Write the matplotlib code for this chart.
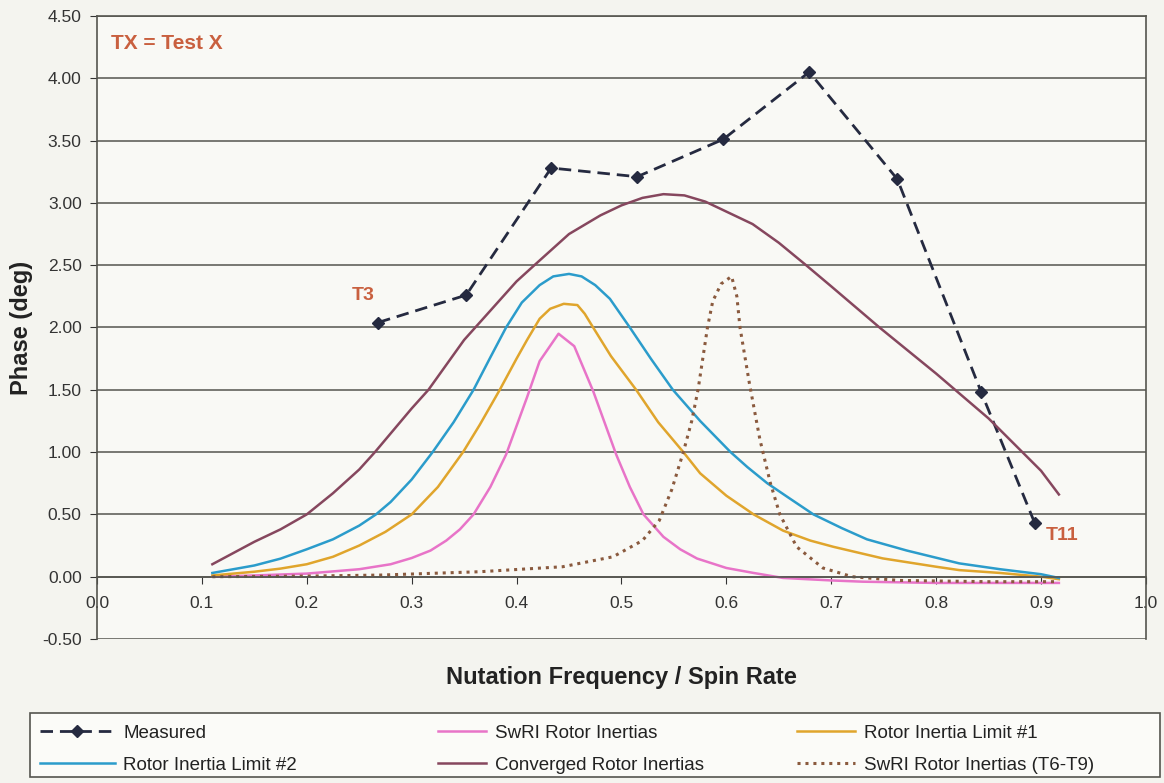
import matplotlib.pyplot as plt
from matplotlib.patches import Rectangle
import numpy as np

plt.rcParams['font.family'] = ['Liberation Sans', 'DejaVu Sans']

# measured test points (T3 ... T11)
meas_x = [0.268, 0.352, 0.433, 0.515, 0.597, 0.679, 0.763, 0.843, 0.894]
meas_y = [2.04, 2.26, 3.28, 3.21, 3.51, 4.05, 3.19, 1.48, 0.43]

# SwRI rotor inertias
swri_x = [0.11, 0.15, 0.2, 0.25, 0.28, 0.3, 0.318, 0.333, 0.346, 0.359, 0.375, 0.39, 0.41,
          0.422, 0.44, 0.455, 0.473, 0.495, 0.508, 0.521, 0.54, 0.556, 0.572, 0.6, 0.626,
          0.654, 0.7, 0.73, 0.8, 0.86, 0.917]
swri_y = [0.0, 0.01, 0.025, 0.06, 0.1, 0.15, 0.21, 0.29, 0.38, 0.5, 0.72, 0.98, 1.44,
          1.73, 1.95, 1.85, 1.49, 0.98, 0.72, 0.5, 0.32, 0.22, 0.146, 0.07, 0.03,
          -0.01, -0.03, -0.04, -0.05, -0.05, -0.05]

# Rotor inertia limit #1
lim1_x = [0.11, 0.15, 0.175, 0.2, 0.225, 0.25, 0.275, 0.3, 0.325, 0.349, 0.365, 0.384, 0.4,
          0.41, 0.422, 0.432, 0.445, 0.458, 0.465, 0.473, 0.49, 0.514, 0.535, 0.559, 0.575,
          0.6, 0.626, 0.654, 0.68, 0.702, 0.749, 0.8, 0.822, 0.861, 0.9, 0.917]
lim1_y = [0.01, 0.04, 0.065, 0.1, 0.16, 0.25, 0.36, 0.5, 0.72, 1.0, 1.22, 1.5, 1.75,
          1.9, 2.07, 2.15, 2.19, 2.18, 2.11, 2.0, 1.77, 1.5, 1.24, 1.0, 0.83,
          0.65, 0.5, 0.37, 0.29, 0.24, 0.147, 0.08, 0.053, 0.03, 0.0, -0.02]

# Rotor inertia limit #2
lim2_x = [0.11, 0.15, 0.175, 0.2, 0.225, 0.25, 0.266, 0.28, 0.3, 0.32, 0.34, 0.359, 0.375,
          0.39, 0.405, 0.422, 0.435, 0.45, 0.462, 0.475, 0.489, 0.508, 0.528, 0.549, 0.575,
          0.604, 0.62, 0.639, 0.66, 0.683, 0.71, 0.734, 0.772, 0.822, 0.861, 0.9, 0.917]
lim2_y = [0.03, 0.09, 0.145, 0.22, 0.3, 0.41, 0.5, 0.6, 0.78, 1.0, 1.24, 1.5, 1.76,
          2.0, 2.2, 2.34, 2.41, 2.43, 2.41, 2.34, 2.23, 2.0, 1.75, 1.5, 1.25,
          1.0, 0.88, 0.75, 0.63, 0.5, 0.39, 0.3, 0.21, 0.107, 0.06, 0.02, -0.01]

# Converged rotor inertias
conv_x = [0.11, 0.15, 0.175, 0.2, 0.225, 0.25, 0.265, 0.3, 0.316, 0.35, 0.4, 0.417, 0.45,
          0.48, 0.5, 0.52, 0.54, 0.56, 0.58, 0.6, 0.625, 0.65, 0.676, 0.7, 0.746, 0.8,
          0.85, 0.9, 0.917]
conv_y = [0.1, 0.28, 0.38, 0.5, 0.67, 0.86, 1.0, 1.35, 1.5, 1.9, 2.37, 2.5, 2.75,
          2.9, 2.98, 3.04, 3.07, 3.06, 3.01, 2.93, 2.83, 2.68, 2.5, 2.33, 2.0, 1.63,
          1.27, 0.85, 0.66]

# SwRI rotor inertias (T6-T9)
t69_x = [0.11, 0.2, 0.27, 0.365, 0.444, 0.492, 0.52, 0.536, 0.548, 0.559, 0.567, 0.573,
         0.582, 0.587, 0.595, 0.605, 0.61, 0.613, 0.622, 0.632, 0.642, 0.651, 0.667,
         0.692, 0.72, 0.765, 0.85, 0.917]
t69_y = [0.0, 0.005, 0.013, 0.04, 0.08, 0.16, 0.29, 0.45, 0.7, 1.0, 1.25, 1.5,
         2.0, 2.21, 2.35, 2.41, 2.25, 2.0, 1.55, 1.1, 0.75, 0.5, 0.24,
         0.07, 0.0, -0.03, -0.04, -0.04]

fig = plt.figure(figsize=(11.64, 7.83), dpi=100, facecolor='#f4f4ef')
ax = fig.add_axes([0.0833, 0.1839, 0.9012, 0.7957])
ax.set_facecolor('#f9f9f5')

l_meas, = ax.plot(meas_x, meas_y, color='#252a40', lw=2, dashes=(4.5, 2.5),
                  marker='D', ms=6, label='Measured')
l_swri, = ax.plot(swri_x, swri_y, color='#e874c8', lw=1.8, label='SwRI Rotor Inertias')
l_lim1, = ax.plot(lim1_x, lim1_y, color='#e0a52c', lw=1.8, label='Rotor Inertia Limit #1')
l_lim2, = ax.plot(lim2_x, lim2_y, color='#2b9ccb', lw=1.8, label='Rotor Inertia Limit #2')
l_conv, = ax.plot(conv_x, conv_y, color='#86475e', lw=1.8, label='Converged Rotor Inertias')
l_t69, = ax.plot(t69_x, t69_y, color='#8a5a3e', lw=2.2, linestyle=(0, (1, 1.6)),
                 label='SwRI Rotor Inertias (T6-T9)')

ax.set_xlim(0, 1.0)
ax.set_ylim(-0.5, 4.5)
ax.set_xticks(np.arange(0, 1.01, 0.1))
ax.set_xticklabels(['%.1f' % v for v in np.arange(0, 1.01, 0.1)])
ax.set_yticks(np.arange(-0.5, 4.51, 0.5))
ax.set_yticklabels(['%.2f' % v for v in np.arange(-0.5, 4.51, 0.5)])
ax.yaxis.grid(True, color='#55554f', lw=1.1)
ax.set_axisbelow(True)

ax.spines['bottom'].set_position(('data', 0))
for s in ['left', 'right', 'top', 'bottom']:
    ax.spines[s].set_color('#55554f')
    ax.spines[s].set_linewidth(1.2)
ax.tick_params(axis='x', length=5, pad=9, labelsize=12.5, colors='#333333')
ax.tick_params(axis='y', length=5, pad=6, labelsize=12.5, colors='#333333')

ax.set_xlabel('Nutation Frequency / Spin Rate', fontsize=17, fontweight='bold', color='#222222')
ax.xaxis.set_label_coords(0.5, -0.043)
ax.xaxis.label.set_va('top')
ax.set_ylabel('Phase (deg)', fontsize=17, fontweight='bold', color='#222222')
ax.yaxis.set_label_coords(-0.061, 0.5)

txt_c = '#c9603f'
ax.text(0.013, 4.28, 'TX = Test X', fontsize=15, fontweight='bold', color=txt_c, va='center')
ax.text(0.243, 2.26, 'T3', fontsize=14, fontweight='bold', color=txt_c, va='center')
ax.text(0.904, 0.33, 'T11', fontsize=14, fontweight='bold', color=txt_c, va='center')

# legend: framed box with three columns
fig.patches.append(Rectangle((0.0258, 0.0077), 0.9708, 0.0817, transform=fig.transFigure,
                             facecolor='#fbfbf8', edgecolor='#55554f', lw=1.2, zorder=0))
cols = [([l_meas, l_lim2], 0.034, 4.0), ([l_swri, l_conv], 0.376, 2.6), ([l_lim1, l_t69], 0.685, 3.1)]
for hs, x0, hl in cols:
    leg = fig.legend(handles=hs, labels=[h.get_label() for h in hs], loc='upper left',
                     bbox_to_anchor=(x0, 0.0745), frameon=False, fontsize=13.5,
                     handlelength=hl, handletextpad=0.45, borderpad=0, borderaxespad=0,
                     labelspacing=0.8)
    for t in leg.get_texts():
        t.set_color('#222222')

fig.savefig('out.png', dpi=100, facecolor=fig.get_facecolor())
